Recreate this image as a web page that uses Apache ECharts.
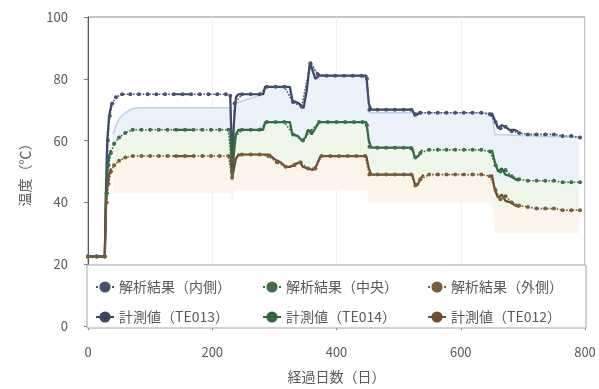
<!DOCTYPE html>
<html>
<head>
<meta charset="utf-8">
<script src="https://cdn.jsdelivr.net/npm/echarts@6/dist/echarts.min.js"></script>
<style>
html,body{margin:0;padding:0;background:#fff}
#chart{width:599px;height:389px}
</style>
</head>
<body>
<div id="chart"></div>
<script>
// Axis ranges
const xMin = 0, xMax = 800, xStep = 200;
const yMin = 0, yMax = 100, yStep = 20;

// Legend names
const anaNames = ['解析結果（内側）', '解析結果（中央）', '解析結果（外側）'];
const measNames = ['計測値（TE013）', '計測値（TE014）', '計測値（TE012）'];

// Analysis results [day, °C]
const anaInner = [[0,22.5],[14,22.5],[27,22.5],[30,43],[32,60],[35,68],[39,72],[45,74],[55,75],[68,75],[82,75],[96,75],[110,75],[124,75],[138,75],[152,75],[166,75],[180,75],[194,75],[208,75],[222,75],[229,74.5],[232,52],[236,72],[248,75],[262,75],[276,75],[288,77.4],[302,77.4],[316,77.4],[330,72.5],[344,71],[358,85],[370,81.5],[384,81],[398,81],[412,81],[426,81],[440,81],[449,80],[453,70],[466,70],[480,70],[494,70],[508,70],[520,70],[527,68.5],[535,69],[549,69],[563,69],[577,69],[591,69],[605,69],[619,69],[633,69],[647,68.5],[656,66],[664,64],[672,64.5],[682,63],[694,62.5],[708,62],[722,62],[736,62],[750,62],[764,61.5],[778,61.5],[792,61]];
const anaCenter = [[0,22.5],[14,22.5],[27,22.5],[30,43],[33,52],[37,56],[42,59],[50,61],[60,62.5],[72,63.5],[86,63.5],[100,63.5],[114,63.5],[128,63.5],[142,63.5],[156,63.5],[170,63.5],[184,63.5],[198,63.5],[212,63.5],[226,63.5],[232,50],[236,61],[248,63.5],[262,63.5],[276,63.5],[288,66],[302,66],[316,66],[330,62],[346,60],[358,63],[372,66],[386,66],[400,66],[414,66],[428,66],[442,66],[449,65],[453,58],[466,57.7],[480,57.7],[494,57.7],[508,57.7],[520,57.5],[527,54.5],[535,56],[549,57],[563,57],[577,57],[591,57],[605,57],[619,57],[633,57],[647,56.5],[656,52],[664,50],[672,50.5],[682,48.5],[694,47.5],[708,47],[722,47],[736,47],[750,47],[764,46.5],[778,46.5],[792,46.5]];
const anaOuter = [[0,22.5],[14,22.5],[27,22.5],[30,40],[33,46],[37,50],[42,52],[50,53.5],[60,54.5],[72,55],[86,55],[100,55],[114,55],[128,55],[142,55],[156,55],[170,55],[184,55],[198,55],[212,55],[226,55],[232,48],[236,54],[248,55.5],[262,55.5],[276,55.5],[290,55],[304,53],[318,51.5],[332,52],[342,53],[354,51],[366,51],[376,55],[390,55],[404,55],[418,55],[432,55],[446,55],[453,49],[466,49],[480,49],[494,49],[508,49],[520,49],[527,45.5],[535,47.5],[549,49],[563,49],[577,49],[591,49],[605,49],[619,49],[633,49],[647,48.5],[656,44],[664,41],[672,42],[682,40],[694,39],[708,38.5],[722,38],[736,38],[750,38],[764,37.5],[778,37.5],[792,37.5]];

// Measured values, recorded in separate periods [day, °C]
const measTE013 = [
  [[0,22.5],[27,22.5],[29,45],[31,60],[34,68],[38,72]],
  [[137,75],[167,75]],
  [[229,74.5],[232,52],[235,66],[238,74],[242,75],[282,75],[285,77.4],[325,77.4],[329,73],[340,72],[347,70.5],[352,76],[357,85],[361,83],[366,80],[372,81],[448,81],[452,72],[456,70],[522,70],[526,68],[531,68.5],[535,69.5]],
  [[650,69],[655,66.5],[660,64],[666,65],[672,64.5],[678,63.5],[686,63.5],[692,63]]
];
const measTE014 = [
  [[0,22.5],[27,22.5],[29,43],[31,50],[34,55],[37,57]],
  [[137,63.5],[167,63.5]],
  [[229,63],[232,50],[235,56],[238,62],[242,63.5],[282,63.5],[285,66],[325,66],[329,62],[338,61.5],[344,60],[350,61],[354,63.5],[360,62],[366,64],[372,66],[448,66],[452,60],[456,57.7],[522,57.7],[526,54.5],[532,55],[538,57]],
  [[650,57],[655,53],[660,50],[666,51],[672,49],[680,48.5],[688,47.5],[694,47]]
];
const measTE012 = [
  [[0,22.5],[27,22.5],[29,40],[31,45],[34,49],[37,51]],
  [[137,55],[167,55]],
  [[229,55],[232,48],[235,51],[238,54],[242,55.5],[292,55.5],[300,54],[310,53],[318,51.5],[326,51.5],[334,52.5],[341,53],[346,51.5],[354,51],[362,50.5],[368,52],[374,55],[448,55],[452,51],[456,49],[522,49],[526,46],[530,45.5],[535,47.5],[540,49]],
  [[650,49],[655,44],[660,41.5],[666,42.5],[672,40.5],[680,40],[688,39],[694,38.5]]
];

// Temperature ranges shaded behind the curves (edges per day)
const bandDays  = [40,45,52,60,70,80,228,232,236,282,285,325,330,345,352,360,368,374,448,453,650,655,790];
const blueTop   = [62,65,67.5,69,70.2,70.6,70.6,58,72,75,77.4,77.4,72.5,71,78,85,82,81,81,69,69,62,61];
const blueLow   = [57,59,61,62,63,63.5,63.5,52,61,63.5,66,66,62,60,62,63,65,66,66,57.7,57.7,47,47];
const greenLow  = [52,53,54,54.5,55,55,55,48,54,55.5,55,53,52,52,51,51,52,55,55,49,49,38,37.5];
const orangeLow = [43,43,43,43,43,43,43,40,44,44,44,44,44,44,44,44,44,44,44,40,40,30,30];

const FONT = 'Noto Sans CJK JP';
const TXT = '#595959';
const lineColors = ['#3b4662', '#2f6a3c', '#714b2d'];
const anaColors = ['#46526e', '#3d7049', '#7b5c3c'];

// Join measurement periods with gaps between them
function joinSegments(segs) {
  const out = [];
  segs.forEach((s, i) => {
    if (i > 0) out.push([(segs[i - 1][segs[i - 1].length - 1][0] + s[0][0]) / 2, '-']);
    s.forEach(p => out.push(p));
  });
  return out;
}

// Filled range between an upper and a lower edge, placed through the axes
function bandSeries(upper, lower, fill, edge) {
  return {
    type: 'custom', silent: true, z: 1, clip: true,
    data: [[bandDays[0], upper[0]]],
    renderItem: function (params, api) {
      const top = bandDays.map((d, i) => api.coord([d, upper[i]]));
      const bot = bandDays.map((d, i) => api.coord([d, lower[i]])).reverse();
      const children = [{ type: 'polygon', shape: { points: top.concat(bot) }, style: { fill } }];
      if (edge) children.push({ type: 'polyline', shape: { points: top }, style: { stroke: edge, lineWidth: 1.5, fill: null } });
      return { type: 'group', children };
    }
  };
}

const series = [
  bandSeries(greenLow, orangeLow, '#fdf4ec', null),
  bandSeries(blueLow, greenLow, '#eef7ea', null),
  bandSeries(blueTop, blueLow, '#ecf2fa', '#b9d3ec')
];

[anaInner, anaCenter, anaOuter].forEach((d, i) => {
  series.push({
    name: anaNames[i], type: 'line', data: d, z: 4,
    symbol: 'circle', symbolSize: 4,
    itemStyle: { color: anaColors[i] },
    lineStyle: { color: anaColors[i], width: 1.6, type: 'dotted' }
  });
});
[measTE013, measTE014, measTE012].forEach((segs, i) => {
  series.push({
    name: measNames[i], type: 'line', data: joinSegments(segs), z: 3,
    symbol: 'none', connectNulls: false,
    itemStyle: { color: lineColors[i] },
    lineStyle: { color: lineColors[i], width: 2.2 }
  });
});

function legendCol(i, left) {
  return {
    data: [anaNames[i], measNames[i]], orient: 'vertical',
    left, top: 275, itemGap: 16, itemWidth: 18, itemHeight: 14, z: 6,
    selectedMode: false,
    textStyle: { fontFamily: FONT, fontSize: 14, color: TXT }
  };
}

const chart = echarts.init(document.getElementById('chart'), null, { renderer: 'canvas' });
chart.setOption({
  backgroundColor: '#fff',
  animation: false,
  grid: { left: 88, right: 14, top: 17, bottom: 62, show: true, borderColor: '#8c8c8c', borderWidth: 1 },
  xAxis: {
    type: 'value', min: xMin, max: xMax, interval: xStep,
    name: '経過日数（日）', nameLocation: 'middle', nameGap: 44,
    nameTextStyle: { fontFamily: FONT, fontSize: 14, color: TXT },
    axisLine: { lineStyle: { color: '#7f7f7f' } },
    axisTick: { show: true, length: 4, lineStyle: { color: '#7f7f7f' } },
    axisLabel: { fontFamily: FONT, fontSize: 13, color: TXT, margin: 20 },
    splitLine: { show: true, lineStyle: { color: '#f0f0f0' } }
  },
  yAxis: {
    type: 'value', min: yMin, max: yMax, interval: yStep,
    name: '温度（℃）', nameLocation: 'middle', nameGap: 56,
    nameTextStyle: { fontFamily: FONT, fontSize: 14, color: TXT },
    axisLine: { show: true, lineStyle: { color: '#595959' } },
    axisTick: { show: true, length: 4, lineStyle: { color: '#7f7f7f' } },
    axisLabel: { fontFamily: FONT, fontSize: 13, color: TXT, margin: 20 },
    splitLine: { show: false }
  },
  legend: [legendCol(0, 90), legendCol(1, 257), legendCol(2, 422)],
  graphic: [{
    type: 'rect', z: 5, silent: true,
    shape: { x: 87, y: 265, width: 499, height: 63 },
    style: { fill: '#ffffff', stroke: '#a6a6a6', lineWidth: 1 }
  }],
  series
});
</script>
</body>
</html>
